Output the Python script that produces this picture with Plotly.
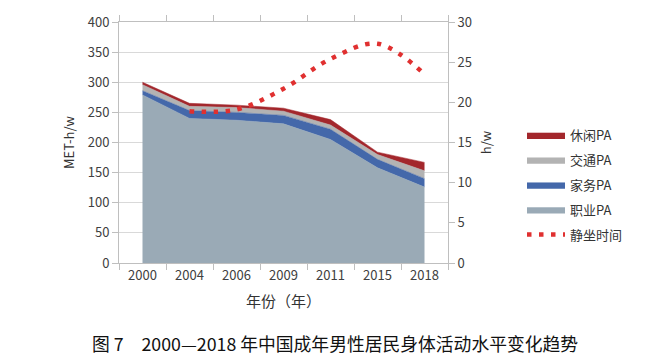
import plotly.graph_objects as go

years = ["2000", "2004", "2006", "2009", "2011", "2015", "2018"]
occupational = [279, 240, 237, 231, 205, 158, 126]
household = [7, 13, 13, 14, 17, 14, 14]
transport = [10, 7, 8, 7, 7, 8, 13]
leisure = [4, 5, 4, 5, 9, 4, 14]
sed_years = ["2004", "2006", "2009", "2011", "2015", "2018"]
sedentary = [18.9, 19.1, 21.7, 25.4, 27.3, 23.5]

FONT = "Noto Sans CJK SC"
fig = go.Figure()

stack = [("职业PA", occupational, "#9AAAB6", 4),
         ("家务PA", household, "#4468AA", 3),
         ("交通PA", transport, "#B3B3B3", 2),
         ("休闲PA", leisure, "#A3272C", 1)]
for name, vals, col, rank in stack:
    fig.add_trace(go.Scatter(x=years, y=vals, name=name, stackgroup="pa", mode="lines",
                             legendrank=rank, legendgroup=name,
                             line=dict(width=0.5, color=col), fillcolor=col))

fig.add_trace(go.Scatter(x=sed_years, y=sedentary, name="静坐时间", yaxis="y2", legendrank=5,
                         legendgroup="sed", mode="lines",
                         line=dict(color="#E03030", width=4.5, dash="4.5px,7.5px", shape="spline")))

fig.update_layout(
    width=667, height=364,
    margin=dict(l=119, r=219, t=19, b=101),
    paper_bgcolor="white", plot_bgcolor="white",
    font=dict(family=FONT, size=13, color="#404040"),
    showlegend=True,
    legend=dict(x=(522 - 119) / 329, y=(263 - 184) / 244, xanchor="left", yanchor="middle",
                traceorder="grouped", font=dict(size=13, color="#333333"), tracegroupgap=5,
                itemwidth=38, bgcolor="rgba(0,0,0,0)"),
    xaxis=dict(type="category", categoryarray=years, range=[-0.5, 6.5], tickson="boundaries",
               ticks="outside", ticklen=6, tickcolor="#BFBFBF", showline=True, linecolor="#BFBFBF",
               mirror="ticks", showgrid=False, tickfont=dict(size=13),
               title=dict(text="年份（年）", font=dict(size=15, color="#333333"), standoff=13)),
    yaxis=dict(range=[0, 400], dtick=50, ticks="outside", ticklen=6, tickcolor="#BFBFBF",
               showline=True, linecolor="#BFBFBF", gridcolor="#D9D9D9", zeroline=False,
               tickfont=dict(size=13),
               title=dict(text="MET-h/w", font=dict(size=13, color="#333333"), standoff=10)),
    yaxis2=dict(range=[0, 30], dtick=5, overlaying="y", side="right", ticks="outside", ticklen=6,
                tickcolor="#BFBFBF", showline=True, linecolor="#BFBFBF", showgrid=False, zeroline=False,
                tickfont=dict(size=13),
                title=dict(text="h/w", font=dict(size=13, color="#333333"), standoff=10)),
    annotations=[dict(text="图 7　2000—2018 年中国成年男性居民身体活动水平变化趋势",
                      xref="paper", yref="paper", x=(335 - 119) / 329, y=(263 - 344) / 244,
                      xanchor="center", yanchor="middle", showarrow=False,
                      font=dict(family=FONT, size=17.8, color="#111111"))],
)
fig.write_html("out.html", config={"displayModeBar": False},
               post_script="document.body.style.margin='0';")
